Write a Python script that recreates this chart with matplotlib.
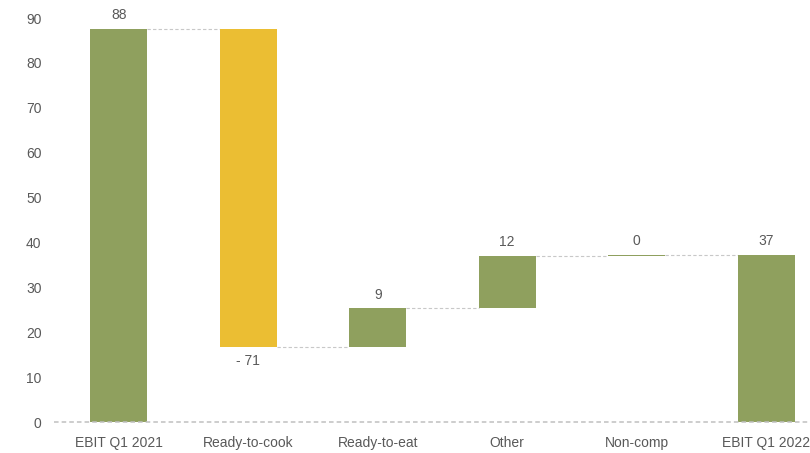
import matplotlib
matplotlib.use('Agg')
import matplotlib.pyplot as plt

# dados
categorias = ["EBIT Q1 2021", "Ready-to-cook", "Ready-to-eat", "Other", "Non-comp", "EBIT Q1 2022"]
variacoes = [87.6, -70.9, 8.6, 11.7, 0.3, 37.2]
rotulos = ["88", "- 71", "9", "12", "0", "37"]
totais = [True, False, False, False, False, True]
cores = ["#8FA05E", "#EBBE33", "#8FA05E", "#8FA05E", "#8FA05E", "#8FA05E"]

plt.rcParams['font.family'] = ['Liberation Sans Narrow', 'Liberation Sans', 'DejaVu Sans']
cinza = "#595959"

fig = plt.figure(figsize=(8.1, 4.53), dpi=100)
ax = fig.add_axes([54 / 810, 31 / 453, (831 - 54) / 810, (422 - 18) / 453])

largura = 0.44
nivel = 0
niveis = []
for i, v in enumerate(variacoes):
    if totais[i]:
        base, topo = 0, v
    else:
        base, topo = nivel, nivel + v
    ax.bar(i, abs(topo - base), bottom=min(base, topo), width=largura,
           color=cores[i], linewidth=0, zorder=3)
    nivel = topo
    niveis.append(nivel)
    # rotulo
    if v < 0:
        ax.text(i, min(base, topo) - 1.5, rotulos[i], ha="center", va="top", fontsize=10, color=cinza)
    else:
        ax.text(i, max(base, topo) + 1.5, rotulos[i], ha="center", va="bottom", fontsize=10, color=cinza)

# linhas de ligacao
for i in range(len(variacoes) - 1):
    ax.plot([i + largura / 2, i + 1 - largura / 2], [niveis[i], niveis[i]],
            color="#C8C8C8", linestyle=(0, (3, 2)), linewidth=0.8, zorder=2)

ax.axhline(0, color="#C0C0C0", linestyle=(0, (3, 2)), linewidth=1.1, zorder=4, clip_on=False)

ax.set_xlim(-0.5, 5.5)
ax.set_ylim(0, 90)
ax.set_yticks(range(0, 91, 10))
ax.set_xticks(range(len(categorias)))
ax.set_xticklabels(categorias)
ax.tick_params(axis="both", length=0, colors=cinza, labelsize=10)
ax.tick_params(axis="y", pad=9)
ax.tick_params(axis="x", pad=10)
for lado in ax.spines.values():
    lado.set_visible(False)

plt.savefig("out.png", dpi=100)
plt.close()
